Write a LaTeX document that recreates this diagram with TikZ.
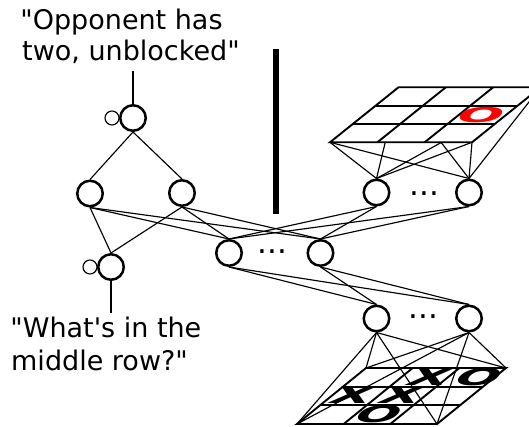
\documentclass[tikz,border=0pt]{standalone}
\usepackage{fontspec}
\setmainfont{DejaVu Sans}[Ligatures=TeXOff]
\usetikzlibrary{calc}
\begin{document}
\begin{tikzpicture}[x=1pt,y=-1pt,
  unit/.style={circle,draw,line width=2.5pt,minimum size=25.5pt,inner sep=0pt,fill=white},
  link/.style={line width=1.15pt},
  boardline/.style={line width=1.9pt},
  lbl/.style={font=\fontsize{27}{32}\selectfont,anchor=base west,inner sep=0pt},
  dotrow/.style={font=\fontsize{31}{31}\selectfont,anchor=base,inner sep=0pt},
  piece/.style={font=\fontsize{27}{27}\selectfont\bfseries,inner sep=0pt,xslant=0.8,xscale=1.9,yscale=0.86},
  redpiece/.style={font=\fontsize{27}{27}\selectfont\bfseries,inner sep=0pt,text=red,xslant=0.7,xscale=2.0,yscale=0.76}
]
\useasboundingbox (0,0) rectangle (529,427);
\clip (0,0) rectangle (529,427);

% labels
\node[lbl] (q1a) at (20.2,29.5) {"Opponent has};
\node[lbl] (q1b) at (22,61) {two, unblocked"};
\node[lbl] (q2a) at (10.2,337.3) {"What's in the};
\node[lbl] (q2b) at (11,370) {middle row?"};

% separator bar
\fill (273.3,49) rectangle (279.3,214);

% units
\node[unit] (A) at (133,118) {};
\node[unit] (B1) at (90,193.5) {};
\node[unit] (B2) at (182,193) {};
\node[unit] (C) at (111,267) {};
\node[unit] (M1) at (229,253) {};
\node[unit] (M2) at (320.5,253) {};
\node[unit] (T1) at (376.5,192.5) {};
\node[unit] (T2) at (469,192.5) {};
\node[unit] (U1) at (376.5,318.5) {};
\node[unit] (U2) at (469,318.5) {};

% ellipses
\node[dotrow] (Md) at (272.5,254) {...};
\node[dotrow] (Td) at (424.5,195.5) {...};
\node[dotrow] (Ud) at (423.5,318) {...};

% self loops
\draw[link] ($(A.west)+(-7,0)$) circle (7);
\draw[link] ($(C.west)+(-7,0)$) circle (7);

% label connectors
\coordinate (topend) at (133,71);
\coordinate (botend) at (111,313);
\draw[link] (A.north) -- (topend);
\draw[link] (C.south) -- (botend);

% edges
\foreach \u in {B1,B2} \draw[link] (A.south) -- (\u.north);
\foreach \u in {B1,B2} \draw[link] (\u.south) -- (C.north);
\foreach \u in {B1,B2,T1,T2} \foreach \v in {M1,M2} \draw[link] (\u.south) -- (\v.north);
\foreach \u in {M1,M2} \foreach \v in {U1,U2} \draw[link] (\u.south) -- (\v.north);

% top board
\coordinate (tBL) at (330,142.3);
\coordinate (tBR) at (472,142.3);
\coordinate (tTL) at (398.5,87.3);
\coordinate (tTR) at (540.5,87.3);
\foreach \c in {tBL,tBR,tTL,tTR} \foreach \v in {T1,T2} \draw[link] (\c) -- (\v.north);
\filldraw[boardline,fill=white] (tBL) -- (tBR) -- (tTR) -- (tTL) -- cycle;
\foreach \f in {0.3333,0.6667} {
  \draw[boardline] ($(tBL)!\f!(tTL)$) -- ($(tBR)!\f!(tTR)$);
  \draw[boardline] ($(tBL)!\f!(tBR)$) -- ($(tTL)!\f!(tTR)$);
}
\node[redpiece] (redO) at (481,115) {O};

% bottom board
\coordinate (bBL) at (297,424);
\coordinate (bBR) at (437,424);
\coordinate (bTL) at (366,368);
\coordinate (bTR) at (506,368);
\filldraw[boardline,fill=white] (bBL) -- (bBR) -- (bTR) -- (bTL) -- cycle;
\foreach \f in {0.3333,0.6667} {
  \draw[boardline] ($(bBL)!\f!(bTL)$) -- ($(bBR)!\f!(bTR)$);
  \draw[boardline] ($(bBL)!\f!(bBR)$) -- ($(bTL)!\f!(bTR)$);
}
\node[piece] (x1) at (430,377.5) {X};
\node[piece] (o1) at (479,377.5) {O};
\node[piece] (x2) at (353,395.5) {X};
\node[piece] (x3) at (402,395.5) {X};
\node[piece] (o2) at (379,414) {O};
\foreach \u in {U1,U2} \foreach \c in {bBL,bBR,bTL,bTR} \draw[link] (\u.south) -- (\c);
\end{tikzpicture}
\end{document}
